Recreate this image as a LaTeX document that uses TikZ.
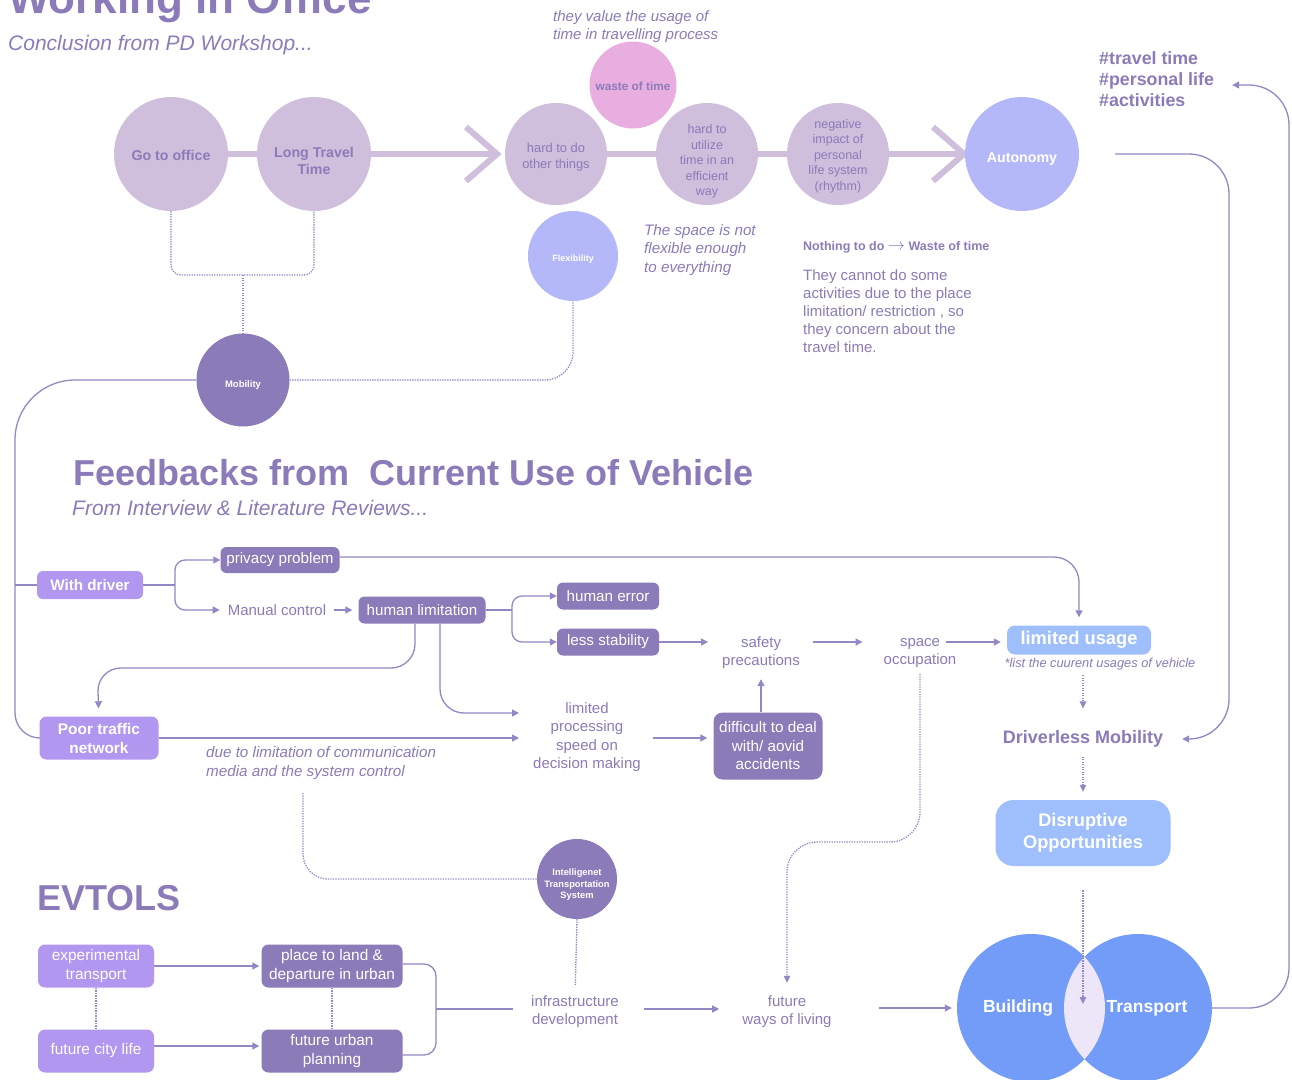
\documentclass[tikz,border=0pt]{standalone}
\usepackage{fontspec}
\setmainfont{Liberation Sans}
\usetikzlibrary{arrows.meta,backgrounds}
\definecolor{ink}{HTML}{8B7BB8}
\definecolor{wire}{HTML}{9587C6}
\definecolor{lilac}{HTML}{CFBEDC}
\definecolor{rose}{HTML}{E9AEE0}
\definecolor{periw}{HTML}{B5B8F8}
\definecolor{violet}{HTML}{B197F0}
\definecolor{sky}{HTML}{9EBFFB}
\definecolor{azure}{HTML}{739CF8}
\definecolor{mist}{HTML}{ECE6F8}
\newcommand\fsz[2]{\fontsize{#1}{#2}\selectfont}
% centred lines of text, lowered by #1 inside a round bubble
\newcommand\sink[2]{\raisebox{-#1}[\height][\depth]{\begin{tabular}{@{}c@{}}#2\end{tabular}}}
\tikzset{
  every node/.style={text=ink},
  ball/.style={circle, inner sep=0pt},
  soft/.style={ball, fill=lilac, text=ink},
  tag/.style={rounded corners=6pt, inner sep=0pt, align=center, text=white},
  plain/.style={inner sep=0pt, align=center, font=\fsz{15}{18}, yshift=-2pt},
  note/.style={inner sep=0pt, anchor=west, align=left},
  bigline/.style={draw=lilac, line width=6pt},
  wired/.style={draw=wire, line width=1.3pt},
  arr/.style={wired, -{Triangle[length=7pt,width=7pt]}},
  dots/.style={draw=wire, line width=1.3pt, dash pattern=on 1.3pt off 1.2pt},
  darr/.style={dots, -{Triangle[length=7pt,width=6.5pt]}}
}
\begin{document}
\begin{tikzpicture}[x=1pt,y=-1pt]
\useasboundingbox (0,0) rectangle (1292,1079);

% ---------- titles ----------
\node[anchor=base west, inner sep=0pt, font=\fsz{44}{48}\bfseries] (ttl) at (8,13) {Working in Office};
\node[anchor=base west, inner sep=0pt, font=\fsz{21}{25}\itshape] (sub) at (8,50) {Conclusion from PD Workshop...};

% ---------- workshop chain ----------
\node[soft, minimum size=114pt, font=\fsz{14.2}{17}\bfseries] (office) at (171,154) {\sink{3.5pt}{Go to office}};
\node[soft, minimum size=114pt, font=\fsz{14.2}{17}\bfseries] (travel) at (314,154) {\sink{9pt}{Long Travel\\Time}};
\node[soft, minimum size=102pt, font=\fsz{12.9}{16}] (hard1) at (556,154) {\sink{3pt}{hard to do\\other things}};
\node[ball, fill=rose, minimum size=87pt, font=\fsz{11.8}{14}\bfseries] (waste) at (633,85) {\sink{3pt}{waste of time}};
\node[soft, minimum size=102pt, font=\fsz{12.5}{15.5}] (hard2) at (707,154) {\sink{7.5pt}{hard to\\utilize\\time in an\\efficient\\way}};
\node[soft, minimum size=102pt, font=\fsz{12.5}{15.5}] (neg) at (838,154) {\sink{2pt}{negative\\impact of\\personal\\life system\\(rhythm)}};
\node[ball, fill=periw, text=white, minimum size=114pt, font=\fsz{14.2}{17}\bfseries] (auto) at (1022,154) {\sink{5pt}{Autonomy}};
\node[ball, fill=periw, text=white, minimum size=90pt, font=\fsz{9}{11}\bfseries] (flex) at (573,256) {\sink{3pt}{Flexibility}};
\node[ball, fill=ink, text=white, minimum size=93pt, font=\fsz{9.5}{11}\bfseries] (mob) at (243,380) {\sink{5pt}{Mobility}};

\coordinate (c1) at (497,154);
\coordinate (c2) at (964,154);

\begin{scope}[on background layer]
  \fill[white] (0,0) rectangle (1292,1079);
  \draw[bigline] (office.center) -- (c1);
  \draw[bigline] (c1) ++(-31,-27) -- (c1) -- ++(-31,27);
  \draw[bigline] (hard1.center) -- (c2);
  \draw[bigline] (c2) ++(-31,-27) -- (c2) -- ++(-31,27);
\end{scope}

% ---------- workshop notes ----------
\node[note, font=\fsz{15}{18}\itshape] (valnote) at (553,27) {they value the usage of\\time in travelling process};
\node[note, font=\fsz{15.2}{18.5}\itshape] (spnote) at (644,250) {The space is not\\flexible enough\\to everything};
\node[note, font=\fsz{12.5}{15}\bfseries] (nothing) at (803,247) {Nothing to do {\fsz{17}{17}$\rightarrow$} Waste of time};
\node[note, font=\fsz{15}{18}] (cannot) at (803,311) {They cannot do some\\activities due to the place\\limitation/ restriction , so\\they concern about the\\travel time.};
\node[note, font=\fsz{17.8}{21}\bfseries] (hash) at (1099,79) {\#travel time\\\#personal life\\\#activities};

% ---------- feedback section ----------
\node[anchor=base west, inner sep=0pt, font=\fsz{36}{40}\bfseries] (fbt) at (73,485) {Feedbacks from\ \ Current Use of Vehicle};
\node[anchor=base west, inner sep=0pt, font=\fsz{21}{25}\itshape] (fbs) at (72,515) {From Interview \& Literature Reviews...};

\node[tag, fill=violet, minimum width=106pt, minimum height=28pt, font=\fsz{15.2}{18}\bfseries] (wd) at (90,585) {With driver};
\node[tag, fill=ink, minimum width=119pt, minimum height=26pt, font=\fsz{15.2}{18}] (priv) at (280,560) {privacy problem};
\node[plain] (manual) at (277,608) {Manual control};
\node[tag, fill=ink, minimum width=127pt, minimum height=27pt, font=\fsz{15.2}{18}] (hlim) at (422,610) {human limitation};
\node[tag, fill=ink, minimum width=102pt, minimum height=27pt, font=\fsz{15.2}{18}] (herr) at (608,596) {human error};
\node[tag, fill=ink, minimum width=102pt, minimum height=27pt, font=\fsz{15.2}{18}] (lstab) at (608,642) {less stability};
\node[plain] (safe) at (761,651) {safety\\precautions};
\node[plain] (space) at (920,651) {space\\occupation};
\node[tag, fill=sky, rounded corners=8pt, minimum width=144pt, minimum height=29pt, font=\fsz{18.3}{22}\bfseries] (lu) at (1079,640) {limited usage};
\node[inner sep=0pt, font=\fsz{12.8}{15}\itshape] (lunote) at (1100,664) {*list the cuurent usages of vehicle};
\node[inner sep=0pt, font=\fsz{18}{22}\bfseries] (dm) at (1083,739) {Driverless Mobility};
\node[tag, fill=sky, rounded corners=18pt, minimum width=175pt, minimum height=66pt, font=\fsz{18.3}{22}\bfseries] (disr) at (1083,833) {Disruptive\\Opportunities};
\node[tag, fill=violet, rounded corners=7pt, minimum width=119pt, minimum height=43pt, font=\fsz{15.4}{19}\bfseries] (poor) at (99,738) {Poor traffic\\network};
\node[plain, font=\fsz{15}{18.3}, yshift=1pt] (lps) at (587,736) {limited\\processing\\speed on\\decision making};
\node[tag, fill=ink, rounded corners=9pt, minimum width=109pt, minimum height=67pt, font=\fsz{15.3}{18.5}] (diff) at (768,746) {difficult to deal\\with/ aovid\\accidents};
\node[note, font=\fsz{15.2}{19}\itshape] (dueto) at (206,763) {due to limitation of communication\\media and the system control};

% ---------- EVTOLS section ----------
\node[anchor=base west, inner sep=0pt, font=\fsz{36}{40}\bfseries] (evt) at (37,910) {EVTOLS};
\node[ball, fill=ink, text=white, minimum size=80pt, font=\fsz{9.3}{11.5}\bfseries] (its) at (577,879) {\sink{6pt}{Intelligenet\\Transportation\\System}};
\node[tag, fill=violet, rounded corners=7pt, minimum width=116pt, minimum height=43pt, font=\fsz{15.4}{18.5}] (exp) at (96,966) {experimental\\transport};
\node[tag, fill=violet, rounded corners=7pt, minimum width=116pt, minimum height=43pt, font=\fsz{15.4}{18.5}] (fcl) at (96,1051) {future city life};
\node[tag, fill=ink, rounded corners=7pt, minimum width=141pt, minimum height=43pt, font=\fsz{15.4}{18.5}] (place) at (332,966) {place to land \&\\departure in urban};
\node[tag, fill=ink, rounded corners=7pt, minimum width=141pt, minimum height=43pt, font=\fsz{15.4}{18.5}] (fup) at (332,1051) {future urban\\planning};
\node[plain] (infra) at (575,1010) {infrastructure\\development};
\node[plain] (fwl) at (787,1010) {future\\ways of living};

% Building / Transport overlap
\node[ball, fill=azure, minimum size=148pt] (bld) at (1031,1008) {};
\node[ball, fill=azure, minimum size=148pt] (trp) at (1138,1008) {};
\begin{scope}
  \clip (bld.center) circle (74pt);
  \fill[mist] (trp.center) circle (74pt);
\end{scope}
\node[inner sep=0pt, text=white, font=\fsz{17.5}{20}\bfseries] (bldt) at (1018,1008) {Building};
\node[inner sep=0pt, text=white, font=\fsz{17.5}{20}\bfseries] (trpt) at (1147,1008) {Transport};

% ---------- coordinates for bends and free ends ----------
\coordinate (j1) at (243,275);
\coordinate (lft) at (15,585);
\coordinate (f1) at (175,585);
\coordinate (f2) at (512,610);
\coordinate (k1) at (97,668);
\coordinate (k2) at (519,713);
\coordinate (k3) at (519,738);
\coordinate (k4) at (850,842);
\coordinate (k5) at (303,793);
\coordinate (k6) at (436,1009);
\coordinate (k7) at (1289,500);
\coordinate (k9) at (1229,500);
\coordinate (lensc) at (1083,1004);

% ---------- connectors ----------
\draw[dots, rounded corners=10pt] (office.south) |- (j1) -| (travel.south);
\draw[dots] (j1) -- (mob.north);
\draw[dots, rounded corners=28pt] (mob.east) -| (flex.south);

\draw[wired, rounded corners=60pt] (mob.west) -| (lft);
\draw[wired, rounded corners=25pt] (lft) |- (poor.west);
\draw[wired] (lft) -- (wd.west);

\draw[wired] (wd.east) -- (f1);
\draw[arr, rounded corners=10pt] (f1) |- (priv.west);
\draw[arr, rounded corners=10pt, shorten >=8pt] (f1) |- (manual.west);
\draw[arr, shorten <=8pt, shorten >=6pt] (manual.east) -- (manual.east -| hlim.west);
\draw[arr, rounded corners=25pt, shorten >=8pt] ([yshift=3pt]priv.east) -| (lu.north);

\draw[wired] (hlim.east) -- (f2);
\draw[arr, rounded corners=10pt] (f2) |- (herr.west);
\draw[arr, rounded corners=10pt] (f2) |- (lstab.west);
\draw[arr, rounded corners=24pt, shorten >=8pt] ([xshift=-7pt]hlim.south) |- (k1) -- (poor.north);
\draw[arr, rounded corners=24pt] ([xshift=18pt]hlim.south) |- (k2);
\draw[arr] (poor.east) -- (k3);

\draw[arr, shorten >=14pt] (lstab.east) -- (safe.west |- lstab.east);
\draw[arr, shorten <=13pt, shorten >=21pt] (safe.east |- lstab.east) -- (space.west |- lstab.east);
\draw[arr, shorten >=6pt] ([xshift=-10pt]space.east |- lstab.east) -- (lu.west |- lstab.east);
\draw[arr, shorten <=12pt, shorten >=6pt] (lps.east |- k3) -- (diff.west |- k3);
\draw[arr, shorten >=10pt] (safe.south |- diff.north) -- (safe.south);

\draw[darr, shorten <=5pt, shorten >=22pt] (lunote.south -| dm.north) -- (dm.north);
\draw[darr, shorten <=9pt, shorten >=8pt] (dm.south) -- (disr.north);
\draw[darr, shorten <=24pt] (disr.south) -- (lensc);
\draw[darr, rounded corners=30pt, shorten <=6pt, shorten >=13pt] (space.south) |- (k4) -| (fwl.north);

\draw[dots, rounded corners=25pt] (k5) |- (its.west);
\draw[dots, shorten >=11pt] (its.south) -- (infra.north);

\draw[arr, shorten >=2pt] (exp.east) -- (place.west);
\draw[arr, shorten >=2pt] ([yshift=5pt]fcl.east) -- ([yshift=5pt]fup.west);
\draw[dots] (exp.south) -- (fcl.north);
\draw[dots] (place.south) -- (fup.north);
\draw[wired, rounded corners=12pt] ([yshift=2pt]place.east) -| (k6) |- ([yshift=-4pt]fup.east);
\draw[wired, shorten >=18pt] (k6) -- (infra.west |- k6);
\draw[arr, shorten <=25pt, shorten >=23pt] (infra.east |- k6) -- (fwl.west |- k6);
\draw[arr, shorten <=47pt, shorten >=5pt] (fwl.east |- bld.west) -- (bld.west);

\draw[arr, rounded corners=40pt, shorten >=18pt] (trp.east) -| (k7) |- ([yshift=-6pt]hash.east);
\draw[arr, rounded corners=40pt, shorten <=36pt, shorten >=19pt] (auto.east) -| (k9) |- (dm.east);
\end{tikzpicture}
\end{document}
